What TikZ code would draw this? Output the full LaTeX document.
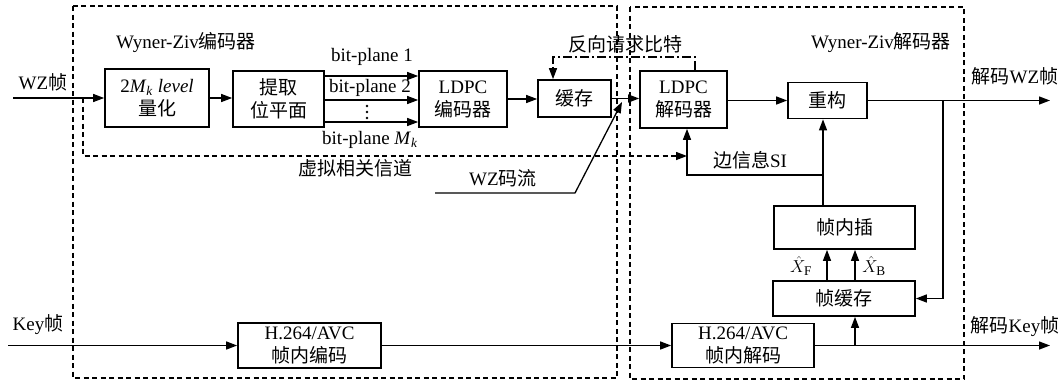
\documentclass[tikz,border=0pt]{standalone}
\usepackage{fontspec}
\setmainfont{Liberation Serif}
\newfontfamily\cjkf{Noto Sans CJK SC}
\newcommand\zh[1]{{\cjkf #1}}
\usetikzlibrary{arrows.meta}
\begin{document}
\begin{tikzpicture}[x=1pt,y=-1pt,
  font=\fontsize{19}{23}\selectfont,
  blk/.style={draw, line width=1.7pt, inner sep=0pt, align=center},
  arr/.style={line width=1.3pt, -{Triangle[length=11pt,width=8pt]}},
  dsh/.style={line width=1.3pt, dash pattern=on 5pt off 3.5pt},
  ddot/.style={line width=1.3pt, dash pattern=on 9pt off 3pt on 2pt off 3pt},
  lbl/.style={inner sep=0pt},
  vdot/.style={fill, circle, inner sep=0pt, minimum size=2.6pt}]
\useasboundingbox (0,0) rectangle (1064,383);

% dashed frames
\draw[dsh] (73,6) rectangle (617,378);
\draw[dsh] (630,7) rectangle (964,379);

% blocks
\node[blk, minimum width=104pt, minimum height=58pt] (q) at (157,98) {2\textit{M}\textsubscript{\textit{k}} \textit{level}\\\zh{量化}};
\node[blk, minimum width=91pt, minimum height=56pt] (ext) at (278.5,99) {\zh{提取}\\\zh{位平面}};
\node[blk, minimum width=88pt, minimum height=56pt] (ldpce) at (463,99) {LDPC\\\zh{编码器}};
\node[blk, minimum width=73pt, minimum height=37pt] (buf) at (574.5,98.5) {\zh{缓存}};
\node[blk, minimum width=87pt, minimum height=57pt] (ldpcd) at (683.5,99.5) {LDPC\\\zh{解码器}};
\node[blk, minimum width=79pt, minimum height=36pt] (rec) at (827.5,100.5) {\zh{重构}};
\node[blk, minimum width=141pt, minimum height=43pt] (interp) at (844.5,227.5) {\zh{帧内插}};
\node[blk, minimum width=142pt, minimum height=35pt] (fbuf) at (844,298.5) {\zh{帧缓存}};
\node[blk, minimum width=143pt, minimum height=45pt] (h264e) at (309.5,345.5) {H.264/AVC\\\zh{帧内编码}};
\node[blk, minimum width=142pt, minimum height=44pt] (h264d) at (743,345.5) {H.264/AVC\\\zh{帧内解码}};

% labels
\node[lbl] (lenc) at (186,43) {Wyner-Ziv\zh{编码器}};
\node[lbl] (ldec) at (881,43) {Wyner-Ziv\zh{解码器}};
\node[lbl] (lwz) at (43,82) {WZ\zh{帧}};
\node[lbl] (lwzo) at (1015,76) {\zh{解码}WZ\zh{帧}};
\node[lbl] (lkey) at (38,325) {Key\zh{帧}};
\node[lbl] (lkeyo) at (1015,327) {\zh{解码}Key\zh{帧}};
\node[lbl] (lfb) at (625,44) {\zh{反向请求比特}};
\node[lbl] (lvc) at (355,168) {\zh{虚拟相关信道}};
\node[lbl] (lws) at (503,178) {WZ\zh{码流}};
\node[lbl] (lsi) at (750,160) {\zh{边信息}SI};
\node[lbl] (lb1) at (372,57) {bit-plane 1};
\node[lbl] (lb2) at (370,88) {bit-plane 2};
\node[lbl] (lbm) at (370,140) {bit-plane \textit{M}\textsubscript{\textit{k}}};
\node[lbl] (lxf) at (801,266) {$\hat{X}_{\mathrm{F}}$};
\node[lbl] (lxb) at (874,266) {$\hat{X}_{\mathrm{B}}$};
\node[vdot] (d1) at (367,106) {};
\node[vdot] (d2) at (367,112) {};
\node[vdot] (d3) at (367,118) {};

% coordinates
\coordinate (wzin) at (13,98);
\coordinate (bp1) at (0,76);
\coordinate (bp2) at (0,100);
\coordinate (bp3) at (0,122);
\coordinate (ws) at (435,193);
\coordinate (wk) at (575,193);
\coordinate (wt) at (622,102);
\coordinate (fb1) at (695,57);
\coordinate (fb2) at (553,57);
\coordinate (wzout) at (1050,100);
\coordinate (j1) at (943,100);
\coordinate (si) at (823,175);
\coordinate (sil) at (687,175);
\coordinate (vc0) at (83,98);
\coordinate (vc1) at (83,156);
\coordinate (xf) at (827,0);
\coordinate (xb) at (855,0);
\coordinate (keyin) at (8,345.5);
\coordinate (keyout) at (1050,345.5);

% connectors
\draw[arr] (wzin) -- (wzin -| q.west);
\draw[arr] (q.east) -- (q.east -| ext.west);
\draw[arr] (ext.east |- bp1) -- (ldpce.west |- bp1);
\draw[arr] (ext.east |- bp2) -- (ldpce.west |- bp2);
\draw[arr] (ext.east |- bp3) -- (ldpce.west |- bp3);
\draw[arr] (ldpce.east) -- (ldpce.east -| buf.west);
\draw[arr] (buf.east) -- (buf.east -| ldpcd.west);
\draw[arr] (ws) -- (wk) -- (wt);
\draw[ddot, arr] (fb1 |- ldpcd.north) -- (fb1) -- (fb2) -- (fb2 |- buf.north);
\draw[arr] (ldpcd.east |- rec.west) -- (rec.west);
\draw[arr] (rec.east) -- (rec.east -| wzout);
\draw[arr] (j1) -- (j1 |- fbuf.east) -- (fbuf.east);
\draw[arr] (si |- interp.north) -- (si |- rec.south);
\draw[arr] (si) -- (sil) -- (sil |- ldpcd.south);
\draw[dsh, arr] (vc0) -- (vc1) -- (vc1 -| sil);
\draw[arr] (xf |- fbuf.north) -- (xf |- interp.south);
\draw[arr] (xb |- fbuf.north) -- (xb |- interp.south);
\draw[arr] (keyin) -- (keyin -| h264e.west);
\draw[arr] (h264e.east) -- (h264e.east -| h264d.west);
\draw[arr] (h264d.east) -- (h264d.east -| keyout);
\draw[arr] (h264d.east -| xb) -- (xb |- fbuf.south);
\end{tikzpicture}
\end{document}
